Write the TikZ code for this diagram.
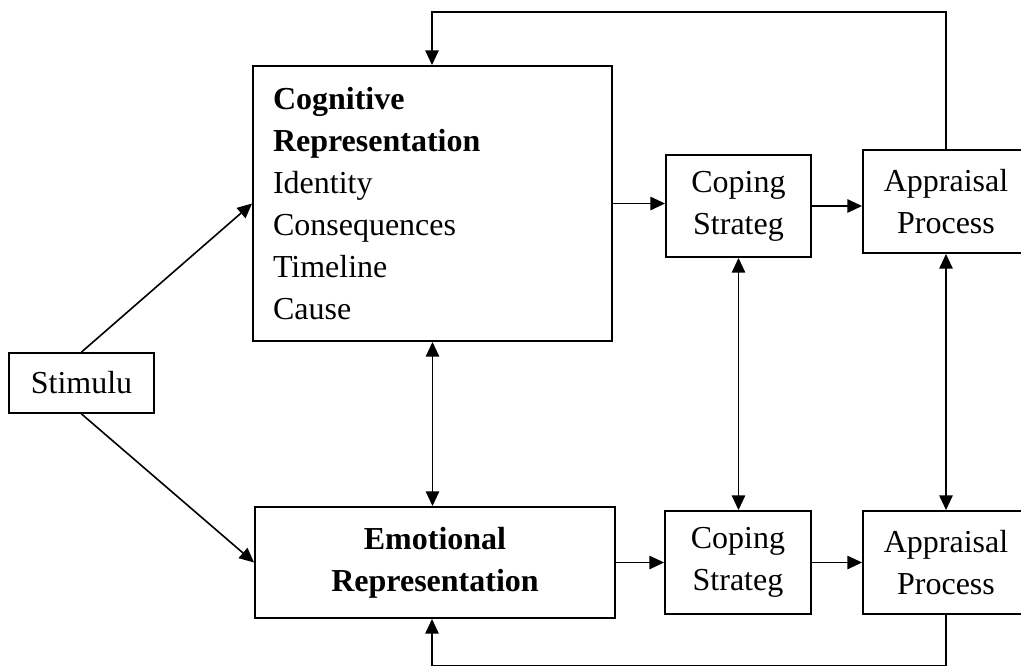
\documentclass[tikz,border=0pt]{standalone}
\usepackage{fontspec}
\setmainfont{Liberation Serif}
\usepackage{tikz}
\usetikzlibrary{arrows.meta,positioning}
\tikzset{blockbox/.style={draw,rectangle,line width=1.4pt,inner sep=0pt,align=center,font=\fontsize{24}{31.5}\selectfont}}

\begin{document}
\begin{tikzpicture}[x=0.75pt,y=-0.75pt,>={Triangle[length=11pt,width=10pt]},line width=1.2pt]
    \useasboundingbox (0,0) rectangle (1021,667);

    \node[blockbox,minimum width=108.75pt,minimum height=45pt] (stim) at (81.5,383) {Stimulu};
    \node[blockbox,text width=239.25pt,inner xsep=15pt,minimum height=206.25pt,align=left] (cog) at (432.5,203.5)
      {\textbf{Cognitive}\\\textbf{Representation}\\Identity\\Consequences\\Timeline\\Cause};
    \node[blockbox,minimum width=270pt,minimum height=83.25pt] (emo) at (435,562.5)
      {\textbf{Emotional}\\\textbf{Representation}};

    \node[blockbox,minimum width=108.75pt,minimum height=76.5pt] (copeT) at (738.5,206) {Coping\\Strateg};
    \node[blockbox,minimum width=124.5pt,minimum height=77.25pt] (apprT) at (946,201.5) {Appraisal\\Process};
    \node[blockbox,minimum width=109.5pt,minimum height=77.25pt] (copeB) at (738,562.5) {Coping\\Strateg};
    \node[blockbox,minimum width=124.5pt,minimum height=77.25pt] (apprB) at (946,562.5) {Appraisal\\Process};

    \coordinate (toprail) at (432,12);
    \coordinate (botrail) at (432,665.5);

    \draw[->] (stim.north) -- (cog.west);
    \draw[->] (stim.south) -- (emo.west);
    \draw[<->] (cog.south) -- (cog.south |- emo.north);

    \draw[->] (cog.east) -- (cog.east -| copeT.west);
    \draw[->] (copeT.east) -- (copeT.east -| apprT.west);
    \draw[->] (emo.east) -- (emo.east -| copeB.west);
    \draw[->] (copeB.east) -- (copeB.east -| apprB.west);

    \draw[<->] (copeT.south) -- (copeT.south |- copeB.north);
    \draw[<->] (apprT.south) -- (apprT.south |- apprB.north);

    \draw[->] (apprT.north) |- (toprail) -- (toprail |- cog.north);
    \draw[->] (apprB.south) |- (botrail) -- (botrail |- emo.south);
  \end{tikzpicture}
\end{document}
